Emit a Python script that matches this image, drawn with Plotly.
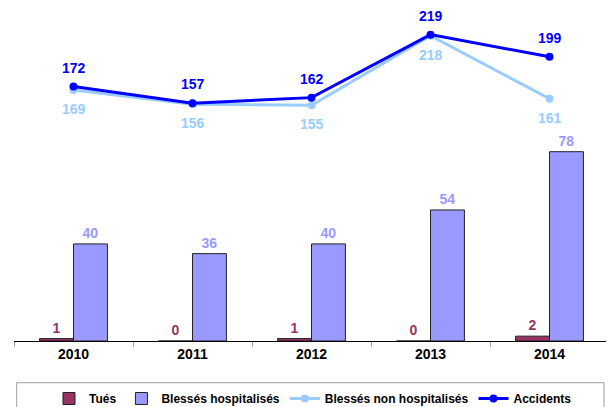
import plotly.graph_objects as go

years = ["2010", "2011", "2012", "2013", "2014"]
tues = [1, 0, 1, 0, 2]
blesses_hosp = [40, 36, 40, 54, 78]
blesses_non_hosp = [169, 156, 155, 218, 161]
accidents = [172, 157, 162, 219, 199]

C_TUES = "#993366"
C_HOSP = "#9999FF"
C_NON = "#99CCFF"
C_ACC = "#0000FF"
FONT = "Liberation Sans, Arial, sans-serif"

fig = go.Figure()

fig.add_trace(go.Bar(
    x=years, y=tues, name="Tués",
    marker=dict(color=C_TUES, line=dict(color="#222222", width=1)),
    text=[str(v) for v in tues], textposition="outside", cliponaxis=False,
    textfont=dict(color=C_TUES, size=14, family=FONT, weight="bold"),
))
fig.add_trace(go.Bar(
    x=years, y=blesses_hosp, name="Blessés hospitalisés",
    marker=dict(color=C_HOSP, line=dict(color="#222222", width=1)),
    text=[str(v) for v in blesses_hosp], textposition="outside", cliponaxis=False,
    textfont=dict(color=C_HOSP, size=14, family=FONT, weight="bold"),
))
fig.add_trace(go.Scatter(
    x=years, y=blesses_non_hosp, name="Blessés non hospitalisés", yaxis="y2",
    mode="lines+markers", line=dict(color=C_NON, width=3),
    marker=dict(color=C_NON, size=8), cliponaxis=False,
))
fig.add_trace(go.Scatter(
    x=years, y=accidents, name="Accidents", yaxis="y2",
    mode="lines+markers", line=dict(color=C_ACC, width=3),
    marker=dict(color=C_ACC, size=8), cliponaxis=False,
))

annotations = []
for i, v in enumerate(accidents):
    annotations.append(dict(x=i, y=v, xref="x", yref="y2", text=str(v),
                            showarrow=False, yshift=19,
                            font=dict(color=C_ACC, size=14, family=FONT, weight="bold")))
for i, v in enumerate(blesses_non_hosp):
    annotations.append(dict(x=i, y=v, xref="x", yref="y2", text=str(v),
                            showarrow=False, yshift=-19,
                            font=dict(color=C_NON, size=14, family=FONT, weight="bold")))

hidden_axis = dict(visible=True, showgrid=False, zeroline=False, showline=False,
                   showticklabels=False, ticks="")

fig.update_layout(
    width=614, height=407,
    margin=dict(l=6, r=13, t=0, b=73.5, autoexpand=False),
    paper_bgcolor="white", plot_bgcolor="white",
    barmode="group", bargap=0.43, bargroupgap=0,
    font=dict(family=FONT, color="black"),
    xaxis=dict(
        type="category", range=[-0.5, 4.5],
        showline=True, linecolor="black", linewidth=1,
        ticks="outside", tickson="boundaries", ticklen=5, tickcolor="#A0A0A0",
        tickfont=dict(size=14, family=FONT, weight="bold", color="black"),
        showgrid=False, zeroline=False,
    ),
    yaxis=dict(range=[0, 137.2], **hidden_axis),
    yaxis2=dict(range=[-58.2, 243.1], overlaying="y", side="right", **hidden_axis),
    showlegend=True,
    legend=dict(
        orientation="h", x=0.5025, xanchor="center",
        yref="container", y=1 - 376 / 407, yanchor="top",
        font=dict(size=12, family=FONT, weight="bold", color="black"),
        bgcolor="rgba(0,0,0,0)", borderwidth=0, traceorder="normal",
    ),
    annotations=annotations,
    shapes=[dict(type="rect", xref="paper", yref="paper",
                 x0=0.0045, x1=0.9916,
                 y0=-0.2294, y1=-0.1253,
                 line=dict(color="#A0A0A0", width=1), fillcolor="rgba(0,0,0,0)")],
)

fig.write_html("out.html")
